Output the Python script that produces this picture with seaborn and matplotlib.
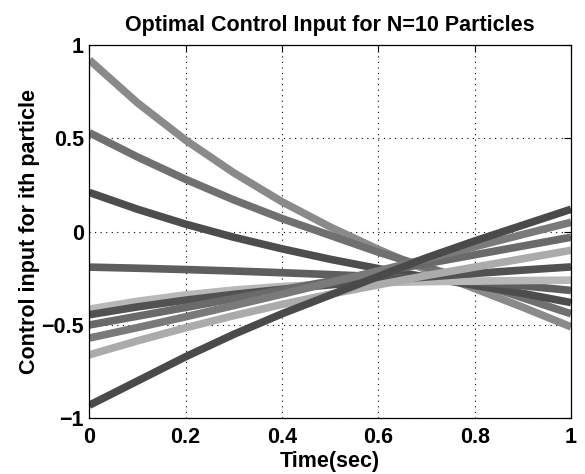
import matplotlib

matplotlib.use("Agg")
import matplotlib.pyplot as plt
import pandas as pd
import seaborn as sns

# time axis (sec)
TIME = [0.0, 0.1, 0.2, 0.3, 0.4, 0.5, 0.6, 0.7, 0.8, 0.9, 1.0]

# control input for each particle
PARTICLE_1 = [0.92, 0.69, 0.49, 0.315, 0.16, 0.025, -0.095, -0.205, -0.305, -0.405, -0.51]
PARTICLE_2 = [0.53, 0.40, 0.28, 0.17, 0.07, -0.02, -0.11, -0.19, -0.27, -0.355, -0.44]
PARTICLE_3 = [0.21, 0.12, 0.04, -0.03, -0.092, -0.148, -0.198, -0.244, -0.288, -0.331, -0.38]
PARTICLE_4 = [-0.19, -0.196, -0.203, -0.211, -0.22, -0.23, -0.241, -0.254, -0.269, -0.29, -0.315]
PARTICLE_5 = [-0.415, -0.373, -0.339, -0.313, -0.294, -0.281, -0.273, -0.268, -0.265, -0.262, -0.26]
PARTICLE_6 = [-0.445, -0.403, -0.367, -0.336, -0.309, -0.285, -0.263, -0.243, -0.224, -0.206, -0.189]
PARTICLE_7 = [-0.50, -0.453, -0.406, -0.359, -0.312, -0.265, -0.218, -0.171, -0.124, -0.077, -0.03]
PARTICLE_8 = [-0.57, -0.514, -0.456, -0.396, -0.335, -0.273, -0.21, -0.146, -0.081, -0.015, 0.05]
PARTICLE_9 = [-0.66, -0.585, -0.515, -0.45, -0.39, -0.335, -0.285, -0.235, -0.19, -0.145, -0.10]
PARTICLE_10 = [-0.93, -0.80, -0.67, -0.55, -0.44, -0.34, -0.24, -0.14, -0.05, 0.035, 0.12]

PARTICLES = [PARTICLE_1, PARTICLE_2, PARTICLE_3, PARTICLE_4, PARTICLE_5,
             PARTICLE_6, PARTICLE_7, PARTICLE_8, PARTICLE_9, PARTICLE_10]

X_TICKS = [0, 0.2, 0.4, 0.6, 0.8, 1]
Y_TICKS = [-1, -0.5, 0, 0.5, 1]
X_TICK_LABELS = ["0", "0.2", "0.4", "0.6", "0.8", "1"]
Y_TICK_LABELS = ["\u22121", "\u22120.5", "0", "0.5", "1"]

GRAYS = ["#8a8a8a", "#707070", "#4d4d4d", "#5e5e5e", "#b8b8b8",
         "#525252", "#6a6a6a", "#7a7a7a", "#ababab", "#4a4a4a"]


def build_frame() -> pd.DataFrame:
    rows = []
    for i, values in enumerate(PARTICLES):
        for t, u in zip(TIME, values):
            rows.append({"particle": f"p{i + 1}", "time": t, "u": u})
    return pd.DataFrame(rows)


def main() -> None:
    sns.set_style("white")
    plt.rcParams["font.family"] = ["Liberation Sans", "DejaVu Sans"]
    plt.rcParams["font.weight"] = "bold"
    plt.rcParams["text.color"] = "black"
    plt.rcParams["axes.labelcolor"] = "black"

    df = build_frame()

    fig = plt.figure(figsize=(5.85, 4.74), dpi=100)
    ax = fig.add_axes([0.1527, 0.1175, 0.8234, 0.7876])

    sns.lineplot(data=df, x="time", y="u", hue="particle", palette=GRAYS,
                 linewidth=5.5, legend=False, ax=ax, sort=False)
    for line in ax.get_lines():
        line.set_solid_capstyle("butt")
        line.set_solid_joinstyle("round")

    ax.set_xlim(0, 1)
    ax.set_ylim(-1, 1)
    ax.set_xticks(X_TICKS)
    ax.set_xticklabels(X_TICK_LABELS)
    ax.set_yticks(Y_TICKS)
    ax.set_yticklabels(Y_TICK_LABELS)
    ax.grid(True, linestyle=(0, (1, 4)), color="black", linewidth=0.8)
    ax.tick_params(direction="in", length=5, width=0.8, top=True, right=True,
                   labelsize=15.5, colors="black")
    ax.tick_params(axis="x", pad=6.5)
    ax.tick_params(axis="y", pad=4)
    for spine in ax.spines.values():
        spine.set_visible(True)
        spine.set_color("black")
        spine.set_linewidth(0.9)

    ax.set_title("Optimal Control Input for N=10 Particles", fontsize=15.5,
                 fontweight="bold", color="black", pad=10)
    ax.set_xlabel("Time(sec)", fontsize=15.5, fontweight="bold", color="black", labelpad=2)
    ax.set_ylabel("Control input for ith particle", fontsize=15.5, fontweight="bold",
                  color="black", labelpad=1)

    fig.savefig("out.png", dpi=100)
    plt.close(fig)


if __name__ == "__main__":
    main()
